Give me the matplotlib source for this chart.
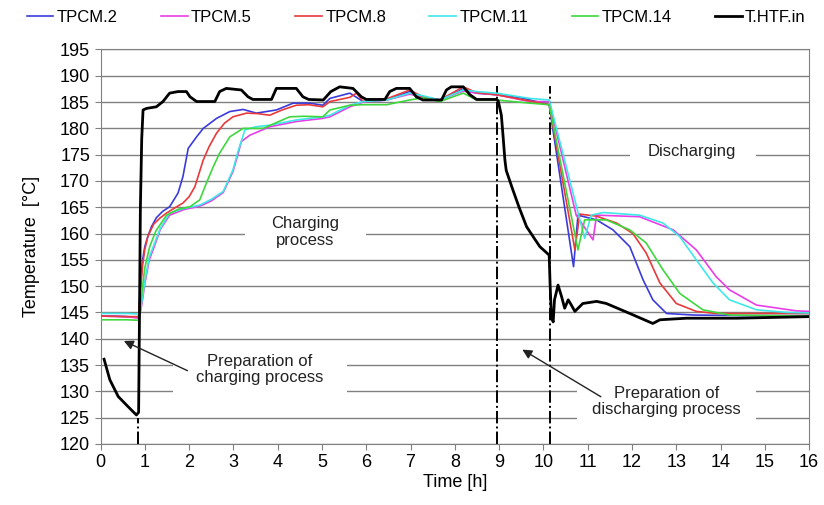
import matplotlib
matplotlib.use('Agg')
import matplotlib.pyplot as plt
from matplotlib.patches import Rectangle

plt.rcParams['font.family'] = ['Liberation Sans Narrow', 'Liberation Sans', 'DejaVu Sans']

# data (time in h, temperature in degC)
t_pcm2 = [0, 0.3, 0.6, 0.86, 0.9, 0.95, 1.0, 1.07, 1.15, 1.26, 1.4, 1.56, 1.75, 1.86, 1.98, 2.17,
          2.32, 2.62, 2.92, 3.22, 3.52, 3.97, 4.35, 4.72, 5.02, 5.18, 5.63, 5.93, 6.46, 6.98, 7.28,
          7.66, 8.19, 8.49, 8.94, 9.5, 10.13, 10.68, 10.78, 11.2, 11.57, 11.95, 12.25, 12.47,
          12.78, 13.4, 14.5, 16]
T_pcm2 = [144.3, 144.3, 144.2, 144.1, 150, 155, 157.5, 159.5, 161.3, 163.0, 164.2, 165.1, 167.7,
          170.8, 176.2, 178.4, 180, 181.9, 183.2, 183.6, 182.9, 183.5, 184.8, 184.8, 184.4, 185.7,
          186.7, 185.1, 185.4, 187, 186, 185.4, 187.5, 186.7, 186.4, 185.8, 184.5, 153.7, 163.5,
          162.6, 160.7, 157.5, 151.2, 147.4, 144.8, 144.5, 144.4, 144.4]

t_pcm5 = [0, 0.6, 0.86, 0.9, 0.95, 1.0, 1.1, 1.19, 1.35, 1.56, 1.9, 2.24, 2.5, 2.77, 2.99, 3.1,
          3.18, 3.37, 3.82, 4.42, 5.02, 5.18, 5.63, 5.93, 6.46, 6.98, 7.28, 7.66, 8.19, 8.49, 8.94,
          9.69, 10.13, 10.74, 11.12, 11.2, 12.17, 12.93, 13.45, 13.9, 14.2, 14.81, 15.71, 16]
T_pcm5 = [144.3, 144.2, 143.9, 145, 147.5, 150.5, 155, 157, 160.8, 163.5, 164.6, 165.2, 166.2,
          167.8, 171.8, 175, 177.5, 178.7, 180.3, 181.3, 181.9, 182.2, 184.1, 185, 185.4, 186.5,
          186, 185.4, 187.1, 186.7, 186.4, 185.1, 185.1, 163.5, 158.8, 163.5, 163.2, 160.7, 156.9,
          151.8, 149.3, 146.4, 145.3, 145.2]

t_pcm8 = [0, 0.6, 0.86, 0.9, 0.95, 1.0, 1.07, 1.2, 1.35, 1.49, 1.7, 1.86, 2.0, 2.13, 2.32, 2.45,
          2.62, 2.8, 2.99, 3.3, 3.55, 3.82, 4.1, 4.42, 4.7, 5.02, 5.18, 5.63, 5.78, 5.93, 6.46,
          6.98, 7.28, 7.66, 8.19, 8.49, 8.94, 9.5, 10.13, 10.71, 10.82, 11.2, 11.65, 12.02, 12.32,
          12.63, 13.0, 13.45, 13.9, 16]
T_pcm8 = [144.3, 144.2, 144.2, 149, 154, 157, 159.5, 161.8, 163, 163.9, 165, 165.8, 167, 168.9,
          174, 176.5, 179.1, 181, 182.2, 182.9, 182.8, 182.5, 183.5, 184.4, 184.5, 184.1, 185.1,
          185.9, 186.7, 185.1, 185.6, 187.3, 186, 185.4, 187.9, 186.8, 186.4, 185.5, 184.5, 156.9,
          163.7, 163.3, 162, 160, 156.3, 150.6, 146.7, 145.2, 144.8, 144.8]

t_pcm11 = [0, 0.6, 0.86, 0.9, 0.95, 1.0, 1.1, 1.19, 1.35, 1.56, 1.9, 2.24, 2.5, 2.77, 2.99, 3.1,
           3.26, 3.5, 3.82, 4.42, 5.02, 5.18, 5.63, 5.93, 6.46, 6.98, 7.28, 7.66, 8.19, 8.49, 8.94,
           9.69, 10.13, 10.93, 11.08, 11.35, 12.17, 12.7, 13.08, 13.45, 13.83, 14.2, 14.81, 15.5, 16]
T_pcm11 = [144.8, 144.8, 144.7, 145.5, 148, 151, 155.5, 157.5, 161, 163.9, 164.8, 165.4, 166.5,
           168, 172.1, 175.5, 179.7, 180.3, 180.6, 181.6, 182.2, 182.5, 184.4, 185.1, 185.4, 186.7,
           186.2, 185.4, 187.3, 187, 186.7, 185.7, 185.4, 159.1, 163.5, 164, 163.5, 162, 159.4,
           155, 150.6, 147.4, 145.5, 145, 144.9]

t_pcm14 = [0, 0.6, 0.86, 0.9, 0.95, 1.0, 1.11, 1.25, 1.49, 1.75, 2.02, 2.24, 2.39, 2.55, 2.69,
           2.92, 3.22, 3.67, 4.0, 4.27, 4.6, 5.02, 5.18, 5.63, 5.93, 6.46, 6.98, 7.28, 7.66, 8.19,
           8.49, 8.94, 9.69, 10.13, 10.78, 10.93, 11.42, 11.95, 12.32, 12.7, 13.08, 13.6, 14.2, 16]
T_pcm14 = [143.6, 143.6, 143.5, 146, 150, 153.5, 157.5, 160.5, 163.5, 164.6, 165.1, 166.4, 169.6,
           172.8, 175.3, 178.4, 180, 180, 181.2, 182.2, 182.3, 182.2, 183.5, 184.4, 184.5, 184.5,
           185.4, 185.8, 185.1, 186.7, 185.4, 185.4, 184.8, 184.5, 156.9, 162.6, 162.6, 160.7,
           158.2, 153.1, 148.6, 145.5, 144.5, 144.3]

t_htf = [0.08, 0.21, 0.4, 0.62, 0.81, 0.86, 0.88, 0.9, 0.93, 0.96, 1.04, 1.26, 1.41, 1.56, 1.75,
         1.94, 2.02, 2.17, 2.58, 2.69, 2.84, 3.18, 3.33, 3.44, 3.86, 3.97, 4.42, 4.57, 4.7, 5.03,
         5.2, 5.4, 5.7, 5.89, 6.0, 6.42, 6.53, 6.68, 6.98, 7.13, 7.28, 7.7, 7.81, 7.92, 8.19, 8.34,
         8.49, 8.94, 8.98, 9.05, 9.09, 9.13, 9.16, 9.31, 9.45, 9.62, 9.8, 9.92, 10.13, 10.15, 10.18,
         10.22, 10.25, 10.33, 10.41, 10.48, 10.56, 10.63, 10.71, 10.89, 11.2, 11.42, 11.95, 12.47,
         12.63, 13.23, 14.36, 16]
T_htf = [136.1, 132.2, 129, 127.1, 125.5, 126, 145, 165, 178, 183.5, 183.8, 184.1, 185.1, 186.7,
         187, 187, 186, 185.1, 185.1, 187, 187.6, 187.3, 186, 185.5, 185.5, 187.6, 187.6, 186,
         185.5, 185.4, 187, 187.9, 187.6, 186, 185.5, 185.5, 187, 187.6, 187.6, 186, 185.4, 185.4,
         187.3, 187.9, 187.9, 186.4, 185.5, 185.5, 185.2, 182.5, 178.4, 174, 172, 168.3, 165,
         161.3, 159, 157.5, 155.9, 150.5, 144.2, 143.2, 147.4, 150.2, 148, 145.8, 147.4, 146.4,
         145.2, 146.7, 147.1, 146.7, 144.8, 142.9, 143.6, 143.9, 143.9, 144.2]

fig = plt.figure(figsize=(8.24, 5.05), dpi=100)
ax = fig.add_axes([0.122, 0.121, 0.860, 0.781])

ax.plot(t_pcm2, T_pcm2, color='#3b3bdc', lw=1.2, label='TPCM.2', zorder=4)
ax.plot(t_pcm5, T_pcm5, color='#e83ee8', lw=1.2, label='TPCM.5', zorder=4)
ax.plot(t_pcm8, T_pcm8, color='#e83a3a', lw=1.2, label='TPCM.8', zorder=4)
ax.plot(t_pcm11, T_pcm11, color='#3fe8e8', lw=1.2, label='TPCM.11', zorder=4)
ax.plot(t_pcm14, T_pcm14, color='#3ed83e', lw=1.2, label='TPCM.14', zorder=4)
ax.plot(t_htf, T_htf, color='black', lw=2.0, label='T.HTF.in', zorder=5)

# phase markers
ax.plot([0.84, 0.84], [120, 125], color='black', lw=1.4, ls='-.', zorder=3)
ax.plot([8.96, 8.96], [120, 188], color='black', lw=1.4, ls='-.', zorder=3)
ax.plot([10.15, 10.15], [120, 188], color='black', lw=1.4, ls='-.', zorder=3)

ax.set_xlim(0, 16)
ax.set_ylim(120, 195)
ax.set_xticks(range(0, 17))
ax.set_yticks(range(120, 196, 5))
ax.tick_params(labelsize=13, color='#808080', length=4)
ax.grid(axis='y', color='#808080', lw=1.0)
ax.set_axisbelow(True)
for s in ax.spines.values():
    s.set_color('#808080')
ax.set_xlabel('Time [h]', fontsize=13, labelpad=2)
ax.set_ylabel('Temperature  [°C]', fontsize=13, family=['Liberation Sans', 'DejaVu Sans'],
              labelpad=14)

# white boxes that cut the gridlines behind the labels
for x0, y0, w, h in [(3.26, 157, 2.74, 7), (11.95, 173.5, 2.85, 4),
                     (1.63, 128.5, 3.93, 10), (10.75, 123, 4.06, 10)]:
    ax.add_patch(Rectangle((x0, y0), w, h, facecolor='white', edgecolor='none', zorder=1.5))

tkw = dict(fontsize=12, ha='center', va='center', color='#222222',
           family=['Liberation Sans', 'DejaVu Sans'], linespacing=1.1, zorder=6)
ax.text(4.61, 160.3, 'Charging\nprocess', **tkw)
ax.text(13.34, 175.6, 'Discharging', **tkw)
ax.text(3.6, 134.2, 'Preparation of\ncharging process', **tkw)
ax.text(12.78, 128.0, 'Preparation of\ndischarging process', **tkw)

akw = dict(arrowstyle='-|>', color='#222222', lw=1.0, mutation_scale=14)
ax.annotate('', xy=(0.47, 139.8), xytext=(2.02, 133.7), arrowprops=akw, zorder=6)
ax.annotate('', xy=(9.47, 138.2), xytext=(11.35, 128.7), arrowprops=akw, zorder=6)

fig.legend(loc='upper center', bbox_to_anchor=(0.505, 1.01), ncol=6, frameon=False,
           fontsize=12, handlelength=1.6, handletextpad=0.2, columnspacing=2.6)

fig.savefig('out.png', dpi=100)
